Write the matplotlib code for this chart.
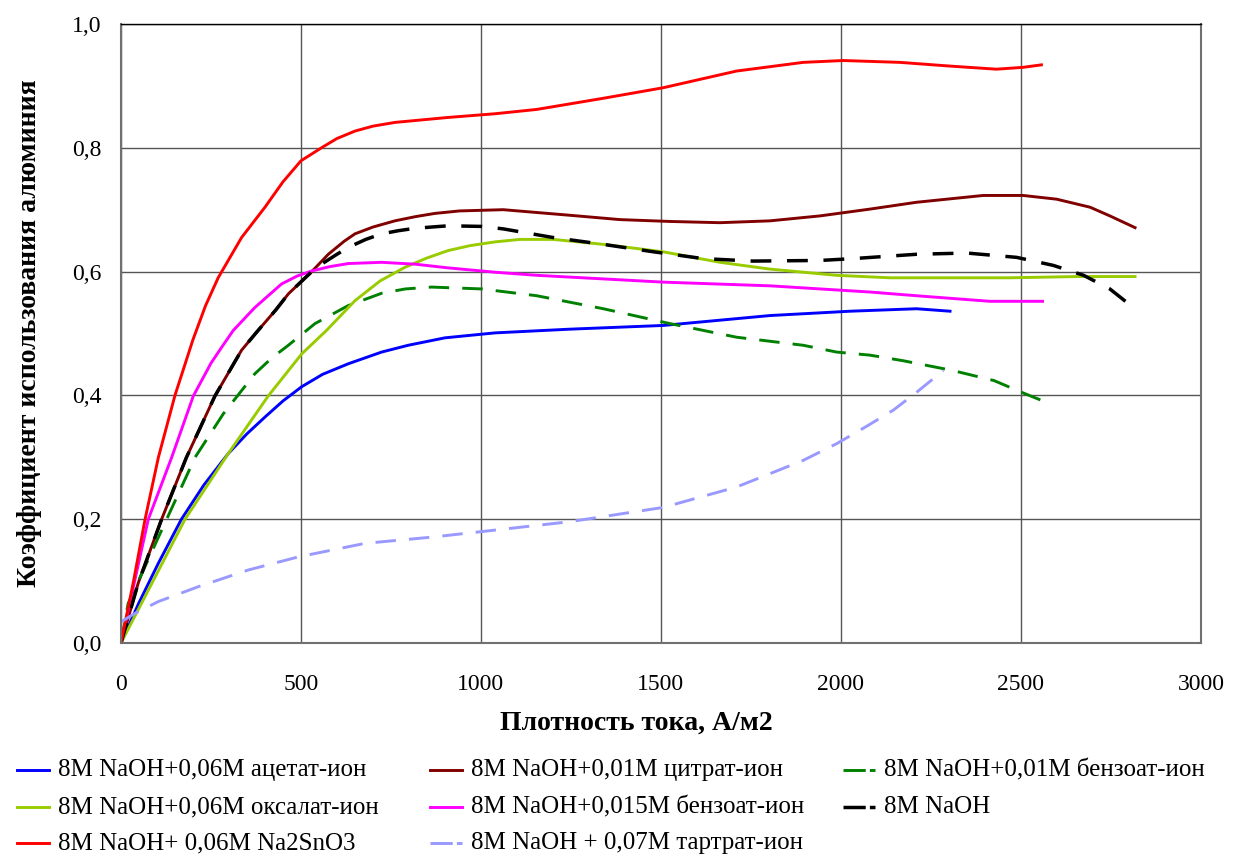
import matplotlib
matplotlib.use('Agg')
import matplotlib.pyplot as plt
import numpy as np

matplotlib.rcParams['font.family'] = ['Liberation Serif', 'DejaVu Serif']

# current density, A/m2 and aluminium utilisation coefficient for each electrolyte
x_acetate = [0, 50, 104, 168, 230, 298, 350, 400, 450, 502, 560, 631, 724, 798, 900, 1039, 1247, 1506, 1803, 2025, 2210, 2303]
y_acetate = [0, 0.065, 0.129, 0.2, 0.255, 0.306, 0.338, 0.365, 0.391, 0.414, 0.434, 0.451, 0.470, 0.481, 0.493, 0.501, 0.507, 0.513, 0.529, 0.536, 0.540, 0.536]

x_citrate = [0, 48, 113, 182, 261, 335, 381, 430, 465, 530, 576, 620, 650, 700, 761, 820, 872, 940, 1000, 1062, 1247, 1386, 1525, 1664, 1803, 1942, 2081, 2210, 2395, 2506, 2599, 2692, 2747, 2817]
y_citrate = [0, 0.097, 0.2, 0.30, 0.399, 0.473, 0.505, 0.538, 0.564, 0.6, 0.628, 0.649, 0.661, 0.672, 0.682, 0.689, 0.694, 0.698, 0.699, 0.700, 0.691, 0.684, 0.681, 0.679, 0.682, 0.690, 0.701, 0.712, 0.723, 0.723, 0.717, 0.704, 0.690, 0.671]

x_benz01 = [0, 20, 127, 206, 284, 372, 420, 465, 539, 631, 724, 790, 863, 1002, 1155, 1340, 1525, 1710, 1895, 1988, 2081, 2173, 2312, 2425, 2506, 2557]
y_benz01 = [0, 0.064, 0.2, 0.30, 0.370, 0.435, 0.461, 0.481, 0.516, 0.545, 0.565, 0.572, 0.575, 0.572, 0.561, 0.540, 0.516, 0.494, 0.481, 0.470, 0.465, 0.456, 0.440, 0.424, 0.404, 0.392]

x_oxalate = [0, 178, 298, 409, 502, 571, 650, 720, 789, 850, 909, 970, 1039, 1108, 1201, 1340, 1506, 1664, 1803, 1988, 2136, 2469, 2655, 2817]
y_oxalate = [0, 0.2, 0.306, 0.399, 0.467, 0.505, 0.553, 0.585, 0.607, 0.622, 0.634, 0.642, 0.648, 0.652, 0.652, 0.644, 0.632, 0.615, 0.604, 0.594, 0.590, 0.590, 0.592, 0.592]

x_benz015 = [0, 76, 141, 201, 250, 280, 312, 372, 446, 490, 530, 580, 631, 724, 817, 909, 1039, 1155, 1506, 1803, 2081, 2210, 2414, 2560]
y_benz015 = [0, 0.2, 0.30, 0.399, 0.452, 0.478, 0.505, 0.542, 0.580, 0.593, 0.601, 0.608, 0.613, 0.615, 0.612, 0.606, 0.599, 0.594, 0.583, 0.577, 0.567, 0.561, 0.552, 0.552]

x_naoh = [0, 48, 113, 182, 261, 335, 381, 430, 465, 530, 557, 600, 631, 680, 724, 770, 817, 909, 1002, 1062, 1201, 1340, 1479, 1617, 1756, 1942, 2034, 2210, 2349, 2488, 2590, 2674, 2747, 2812]
y_naoh = [0, 0.097, 0.2, 0.30, 0.399, 0.473, 0.505, 0.538, 0.564, 0.6, 0.612, 0.628, 0.639, 0.652, 0.661, 0.666, 0.670, 0.674, 0.673, 0.669, 0.655, 0.644, 0.632, 0.621, 0.617, 0.618, 0.621, 0.628, 0.630, 0.623, 0.610, 0.594, 0.572, 0.542]

x_stannate = [0, 35, 67, 104, 150, 200, 235, 270, 335, 400, 450, 500, 557, 600, 650, 700, 761, 908, 1039, 1155, 1340, 1506, 1710, 1895, 2006, 2164, 2303, 2432, 2506, 2557]
y_stannate = [0, 0.1, 0.2, 0.3, 0.4, 0.49, 0.545, 0.59, 0.655, 0.704, 0.745, 0.779, 0.8, 0.815, 0.827, 0.835, 0.841, 0.849, 0.855, 0.862, 0.880, 0.897, 0.924, 0.938, 0.941, 0.938, 0.932, 0.927, 0.930, 0.934]

x_tartrate = [0, 39, 104, 215, 354, 492, 678, 863, 1002, 1247, 1506, 1710, 1895, 1988, 2071, 2145, 2210, 2284]
y_tartrate = [0.034, 0.048, 0.067, 0.091, 0.118, 0.139, 0.161, 0.171, 0.180, 0.196, 0.219, 0.252, 0.295, 0.322, 0.350, 0.376, 0.405, 0.440]

labels = ['8M NaOH+0,06M ацетат-ион', '8M NaOH+0,01M цитрат-ион', '8M NaOH+0,01M бензоат-ион',
          '8M NaOH+0,06M оксалат-ион', '8M NaOH+0,015M бензоат-ион', '8M NaOH',
          '8M NaOH+ 0,06M Na2SnO3', '8M NaOH + 0,07M тартрат-ион']

fig = plt.figure(figsize=(12.33, 8.57), dpi=100)
ax = fig.add_axes([0.0981, 0.2497, 0.8759, 0.7223])

lw = 2.1
h1, = ax.plot(x_acetate, y_acetate, color='#0000ff', lw=lw)
h2, = ax.plot(x_citrate, y_citrate, color='#800000', lw=lw)
h3, = ax.plot(x_benz01, y_benz01, color='#008000', lw=lw, dashes=(7, 4.5))
h4, = ax.plot(x_oxalate, y_oxalate, color='#99cc00', lw=lw)
h5, = ax.plot(x_benz015, y_benz015, color='#ff00ff', lw=lw)
h6, = ax.plot(x_naoh, y_naoh, color='black', lw=lw + 0.4, dashes=(6, 4.5))
h7, = ax.plot(x_stannate, y_stannate, color='#ff0000', lw=lw)
h8, = ax.plot(x_tartrate, y_tartrate, color='#9999ff', lw=lw, dashes=(7, 4.5))

ax.set_xlim(0, 3000)
ax.set_ylim(0, 1.0)
ax.set_xticks(np.arange(0, 3001, 500))
ax.set_yticks(np.arange(0, 1.01, 0.2))
ax.set_yticklabels([('%.1f' % v).replace('.', ',') for v in np.arange(0, 1.01, 0.2)])
ax.tick_params(length=0, labelsize=17, pad=14)
ax.tick_params(axis='x', pad=22)
ax.grid(True, color='#555555', lw=1)
ax.set_axisbelow(True)
for s in ax.spines.values():
    s.set_color('#707070')
    s.set_linewidth(1.5)
ax.spines['top'].set_color('black')
ax.spines['top'].set_linewidth(1)

ax.set_xlabel('Плотность тока, А/м2', fontsize=20, fontweight='bold')
ax.set_ylabel('Коэффициент использования алюминия', fontsize=20, fontweight='bold')
ax.xaxis.set_label_coords(0.477, -0.110)
ax.yaxis.set_label_coords(-0.073, 0.5)

# legend drawn by hand: three columns under the plot
handles = [h1, h2, h3, h4, h5, h6, h7, h8]
cols = [0.014, 0.349, 0.684]
rows = [0.101, 0.058, 0.016]
for i, (h, lab) in enumerate(zip(handles, labels)):
    c = cols[i % 3]
    r = rows[i // 3]
    hw = h.get_linewidth()
    if h.get_linestyle() == '--':
        # long dash followed by a short stub, dash lengths given in points
        dash = (16.0 / hw, 3.0 / hw)
    else:
        dash = (None, None)
    fig.add_artist(matplotlib.lines.Line2D([c, c + 0.026], [r, r], color=h.get_color(),
                                           lw=hw, dashes=dash,
                                           transform=fig.transFigure))
    fig.text(c + 0.033, r, lab, fontsize=18, va='center', ha='left')

fig.savefig('out.png', dpi=100)
